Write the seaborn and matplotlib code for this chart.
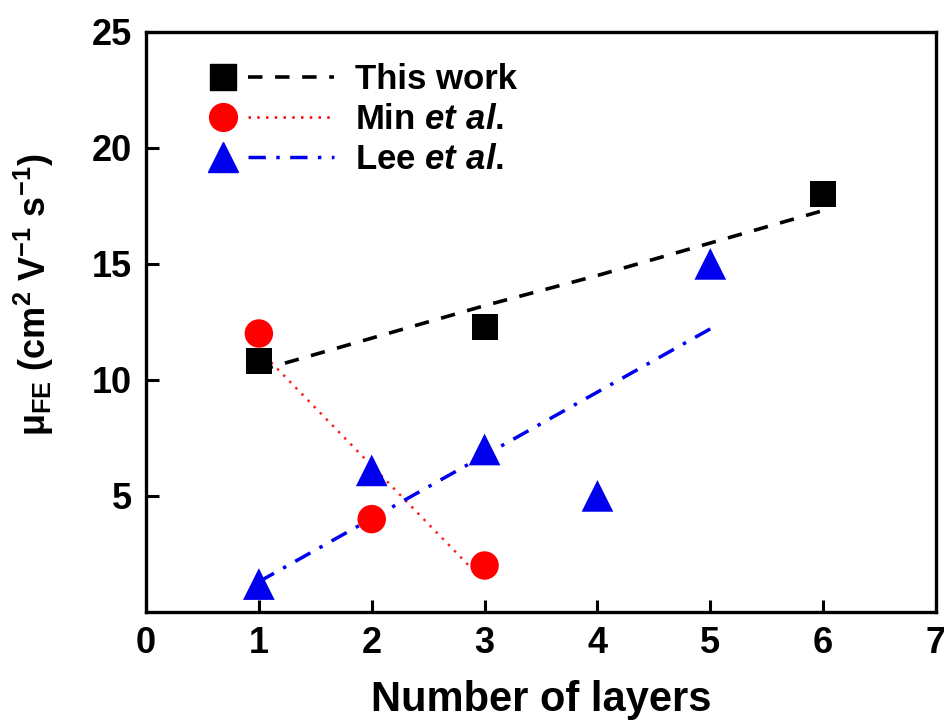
import matplotlib
matplotlib.use("Agg")
import matplotlib.pyplot as plt
import seaborn as sns
from matplotlib.lines import Line2D
from matplotlib.legend_handler import HandlerBase

# data
layers_this = [1, 3, 6]
mu_this = [10.8, 12.3, 18.0]
layers_min = [1, 2, 3]
mu_min = [12.0, 4.0, 2.0]
layers_lee = [1, 2, 3, 4, 5]
mu_lee = [1.2, 6.1, 7.0, 5.0, 15.0]

# fitted guide lines
fit_this_x = [1, 2, 3, 4, 5, 6]
fit_this_y = [10.4, 11.8, 13.2, 14.5, 15.9, 17.3]
fit_min_x = [1, 3]
fit_min_y = [11.3, 1.3]
fit_lee_x = [1, 5]
fit_lee_y = [1.3, 12.2]

xticks = [0, 1, 2, 3, 4, 5, 6, 7]
yticks = [5, 10, 15, 20, 25]

sns.set_theme(style="ticks")
plt.rcParams['font.family'] = ['Liberation Sans', 'DejaVu Sans']
plt.rcParams['font.weight'] = 'bold'
plt.rcParams['mathtext.fontset'] = 'custom'
plt.rcParams['mathtext.rm'] = 'Liberation Sans'
plt.rcParams['mathtext.it'] = 'Liberation Sans:italic'
plt.rcParams['mathtext.bf'] = 'Liberation Sans:bold'
for k in ['text.color', 'axes.labelcolor', 'xtick.color', 'ytick.color']:
    plt.rcParams[k] = 'black'

fig = plt.figure(figsize=(9.45, 7.25), dpi=100)
ax = fig.add_axes([0.1545, 0.156, 0.836, 0.80])

ls_this = (0, (4, 3.5))
ls_min = (0, (1, 2.5))
ls_lee = (0, (5, 3, 1, 3))

sns.lineplot(x=fit_this_x, y=fit_this_y, color='black', linestyle=ls_this, lw=2.6, ax=ax)
sns.lineplot(x=fit_min_x, y=fit_min_y, color='#ff2020', linestyle=ls_min, lw=1.8, ax=ax)
sns.lineplot(x=fit_lee_x, y=fit_lee_y, color='#0000ee', linestyle=ls_lee, lw=2.5, ax=ax)

sns.scatterplot(x=layers_this, y=mu_this, marker='s', s=350, color='black', edgecolor='none', ax=ax, zorder=3)
sns.scatterplot(x=layers_min, y=mu_min, marker='o', s=420, color='#ff0000', edgecolor='none', ax=ax, zorder=3)
sns.scatterplot(x=layers_lee, y=mu_lee, marker='^', s=520, color='#0000ee', edgecolor='none', ax=ax, zorder=3)

ax.set_xlim(0, 7)
ax.set_ylim(0, 25)
ax.set_xticks(xticks)
ax.set_yticks(yticks)
ax.tick_params(direction='in', length=9, width=2.2, labelsize=26, pad=10)
for sp in ['top', 'right', 'left', 'bottom']:
    ax.spines[sp].set_linewidth(2.4)
    ax.spines[sp].set_color('black')

ax.set_xlabel('Number of layers', fontsize=30, fontweight='bold', labelpad=14)
ax.set_ylabel(r'$\mathrm{μ_{FE}}$ (cm$^{\mathbf{2}}$ V$^{\mathbf{-1}}$ s$^{\mathbf{-1}}$)',
              fontsize=26, fontweight='bold')
ax.yaxis.set_label_coords(-0.114, 0.547)


class MarkerThenLine(HandlerBase):
    def create_artists(self, legend, orig_handle, xdescent, ydescent,
                       width, height, fontsize, trans):
        y = height / 2 - ydescent
        m = Line2D([0.11 * width - xdescent], [y], marker=orig_handle.get_marker(),
                   markersize=orig_handle.get_markersize(),
                   color=orig_handle.get_markerfacecolor(), linestyle='none')
        l = Line2D([0.31 * width - xdescent, width - xdescent], [y, y],
                   color=orig_handle.get_color(),
                   linewidth=orig_handle.get_linewidth())
        l.set_linestyle(orig_handle.get_linestyle())
        l.set_dashes(orig_handle._unscaled_dash_pattern[1])
        m.set_transform(trans)
        l.set_transform(trans)
        return [m, l]


h_this = Line2D([], [], marker='s', markersize=18.5, color='black', linestyle=ls_this, lw=2.6)
h_min = Line2D([], [], marker='o', markersize=20, color='#ff0000', linestyle=ls_min, lw=1.8)
h_lee = Line2D([], [], marker='^', markersize=22, color='#0000ee', linestyle=ls_lee, lw=2.5)
leg = ax.legend([h_this, h_min, h_lee],
                ['This work', r'Min $\mathbf{\mathit{et\ al.}}$', r'Lee $\mathbf{\mathit{et\ al.}}$'],
                handler_map={Line2D: MarkerThenLine()},
                loc='upper left', bbox_to_anchor=(0.04, 1.0), frameon=False,
                fontsize=25, handlelength=3.6, handletextpad=0.6, labelspacing=0.2)
for t in leg.get_texts():
    t.set_fontweight('bold')

fig.savefig('out.png', dpi=100)
